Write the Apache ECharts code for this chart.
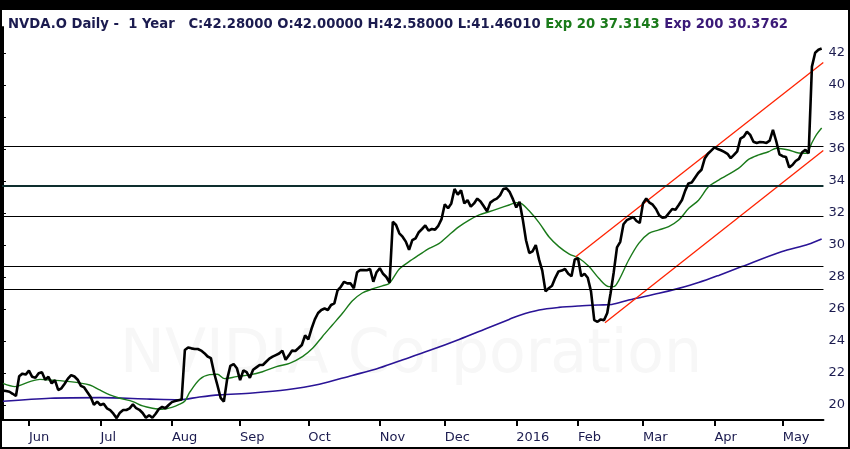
<!DOCTYPE html>
<html>
<head>
<meta charset="utf-8">
<script src="https://cdn.jsdelivr.net/npm/echarts@6/dist/echarts.min.js"></script>
<style>
html,body{margin:0;padding:0;background:#000;width:850px;height:449px;overflow:hidden;}
#c{position:absolute;left:2px;top:10px;width:846px;height:437px;background:#fff;}
</style>
</head>
<body>
<div id="c"></div>
<script>
// ---- data ----
const monthLabels = ['Jun','Jul','Aug','Sep','Oct','Nov','Dec','2016','Feb','Mar','Apr','May'];
const monthStartIdx = [8,30,52,73,94,116,136,158,177,197,219,240];
const yTicks = [20,22,24,26,28,30,32,34,36,38,40,42];

const price = [
20.9,20.88,20.83,20.7,20.56,21.8,21.96,21.9,22.15,21.76,
21.7,21.98,22.05,21.58,21.76,21.35,21.56,20.94,21.04,21.33,
21.65,21.87,21.78,21.58,21.2,21.1,20.8,20.5,20.02,20.21,
20.0,20.08,19.79,19.68,19.46,19.18,19.52,19.69,19.69,19.79,
20.05,19.8,19.7,19.5,19.2,19.36,19.2,19.45,19.75,19.88,
19.8,20.0,20.18,20.25,20.3,20.35,23.44,23.6,23.54,23.5,
23.5,23.4,23.24,23.03,22.93,22.0,21.25,20.45,20.21,21.6,
22.45,22.56,22.3,21.55,22.17,22.05,21.7,22.2,22.35,22.5,
22.5,22.7,22.9,23.02,23.12,23.22,23.4,22.83,23.1,23.4,
23.38,23.56,23.75,24.35,24.1,24.78,25.35,25.75,25.94,26.03,
25.94,26.25,26.35,27.17,27.39,27.7,27.6,27.6,27.3,28.3,
28.44,28.43,28.42,28.5,27.7,28.3,28.55,28.2,28.0,27.65,
31.45,31.25,30.73,30.52,30.21,29.7,30.3,30.42,30.8,31.0,
31.22,30.9,31.0,30.96,31.2,31.62,32.55,32.3,32.6,33.5,
33.15,33.42,32.6,32.8,32.4,32.6,32.9,32.72,32.42,32.1,
32.65,32.8,32.9,33.1,33.5,33.54,33.3,32.85,32.35,32.7,
31.6,30.3,29.5,29.6,30.0,29.1,28.4,27.1,27.3,27.45,
27.95,28.35,28.4,28.5,28.2,28.05,29.1,29.17,28.05,28.2,
27.95,27.1,25.3,25.2,25.35,25.3,25.75,26.95,28.3,29.85,
30.2,31.3,31.55,31.65,31.75,31.5,31.38,32.6,32.9,32.65,
32.52,32.25,31.85,31.7,31.74,32.0,32.25,32.2,32.5,32.81,
33.4,33.85,33.9,34.2,34.5,34.7,35.4,35.7,35.9,36.1,
36.0,35.92,35.82,35.7,35.43,35.63,35.85,36.65,36.77,37.08,
36.88,36.45,36.37,36.43,36.42,36.38,36.52,37.2,36.5,35.67,
35.55,35.5,34.85,35.0,35.25,35.38,35.8,35.95,35.73,41.15,
42.02,42.2,42.28
];

const ema20Idx = [0,3.7,8.3,11.4,14.5,20.6,26.7,29.8,32.9,36,40,43,46,49,52,54.4,56,57.5,60.5,63.6,66,68.2,71.9,75.9,79.9,84.2,88.2,92.2,95.3,98.3,101.4,104.5,107.5,110.6,113.7,116.8,118.9,122,125,128.1,131.2,134.3,137.3,140.4,143.5,146.6,149.6,152.7,155.8,157.9,159.5,161.9,165,168.1,171.1,174.2,177.3,180.4,183.4,186.5,188,189.6,192.6,195.7,198.8,201.9,204.9,208,211.1,214.1,217.2,220.3,226.4,229.5,232.6,235.6,238.1,241.8,244.9,247.3,248.9,250.4,252];
const ema20Val = [21.35,21.15,21.46,21.6,21.56,21.46,21.25,20.94,20.63,20.42,20.21,19.94,19.8,19.73,19.85,20.05,20.25,20.8,21.6,21.9,21.92,21.65,21.77,21.88,22.08,22.4,22.6,23.02,23.54,24.27,25.0,25.73,26.5,27.0,27.25,27.45,27.6,28.5,28.96,29.38,29.79,30.1,30.63,31.15,31.56,31.88,32.08,32.29,32.5,32.65,32.6,32.15,31.4,30.5,29.9,29.45,29.17,28.65,27.92,27.4,27.4,27.81,29.06,30.1,30.73,30.94,31.15,31.56,32.29,32.8,33.65,34.06,34.79,35.35,35.63,35.83,36.05,35.94,35.75,35.73,36.35,36.9,37.31];

const ema200Idx = [0,14.5,29.8,45.2,54.4,60.5,66.7,76.8,87.3,97.4,107.5,114.9,122,131.2,140.4,149.6,155.8,158.9,165,171.1,177.3,183.4,187.4,192.6,201.9,208,214.1,220.3,227.4,239.6,247.9,252];
const ema200Val = [20.23,20.42,20.46,20.37,20.33,20.5,20.63,20.75,20.95,21.3,21.85,22.25,22.75,23.4,24.1,24.85,25.35,25.6,25.94,26.1,26.19,26.25,26.28,26.56,26.98,27.29,27.65,28.1,28.65,29.58,30.05,30.38];

const hLevels = [36.2, 33.7, 31.8, 28.65, 27.25];
const upperChannelIdx = [176.3, 252.5];
const upperChannelVal = [29.27, 41.4];
const lowerChannelIdx = [185.3, 252.5];
const lowerChannelVal = [25.14, 35.9];

// ---- chart ----
const pair = (xs, ys) => xs.map((x, i) => [x, ys[i]]);
const navy = '#1b1b4f';
const chart = echarts.init(document.getElementById('c'), null, {renderer: 'canvas'});
chart.setOption({
  animation: false,
  backgroundColor: '#fff',
  title: {
    left: 1, top: 3,
    text: '{a|NVDA.O Daily -  1 Year   C:42.28000 O:42.00000 H:42.58000 L:41.46010 }{g|Exp 20 37.3143 }{p|Exp 200 30.3762}',
    textStyle: {
      rich: {
        a: {fontFamily: 'DejaVu Sans', fontSize: 13.2, color: navy},
        g: {fontFamily: 'DejaVu Sans', fontSize: 13.2, color: '#1a7a1a'},
        p: {fontFamily: 'DejaVu Sans', fontSize: 13.2, color: '#3b1a78'}
      }
    }
  },
  graphic: [{
    type: 'text', left: 118, top: 316, z: 0, silent: true,
    style: {text: 'NVIDIA Corporation', font: '60px "DejaVu Sans"', fill: '#f7f7f7'}
  }],
  grid: {left: 0, right: 23, top: 17, bottom: 27, containLabel: false},
  xAxis: {
    type: 'value', min: -0.29, max: 252.55,
    axisLine: {show: true, lineStyle: {color: '#000', width: 2}},
    axisTick: {show: true, customValues: monthStartIdx, length: 6, lineStyle: {color: '#000', width: 2}},
    axisLabel: {
      customValues: monthStartIdx, align: 'left', margin: 11,
      fontFamily: 'DejaVu Sans', fontSize: 13, color: navy,
      formatter: v => monthLabels[monthStartIdx.indexOf(v)]
    },
    splitLine: {show: false}
  },
  yAxis: {
    type: 'value', position: 'right', min: 19.0625, max: 43.625,
    axisLine: {show: true, lineStyle: {color: '#000', width: 2}},
    axisTick: {show: true, customValues: yTicks, length: 3, lineStyle: {color: '#000', width: 1}},
    axisLabel: {customValues: yTicks, margin: 5, fontFamily: 'DejaVu Sans', fontSize: 13, color: navy},
    splitLine: {show: false}
  },
  series: [
    {
      type: 'line', name: 'levels', data: [], silent: true,
      markLine: {
        silent: true, symbol: ['none', 'none'], label: {show: false},
        data: hLevels.map((v, i) => ({yAxis: v, lineStyle: {type: 'solid', color: i === 1 ? '#0e2e2e' : '#000', width: i === 1 ? 2 : 1.2}}))
      },
      z: 1
    },
    {type: 'line', name: 'Exp 200', data: pair(ema200Idx, ema200Val), smooth: 0.3, showSymbol: false,
     lineStyle: {color: '#2a1496', width: 1.6}, z: 2},
    {type: 'line', name: 'Exp 20', data: pair(ema20Idx, ema20Val), smooth: 0.3, showSymbol: false,
     lineStyle: {color: '#1a7a1a', width: 1.4}, z: 3},
    {type: 'line', name: 'upper', data: pair(upperChannelIdx, upperChannelVal), showSymbol: false,
     lineStyle: {color: '#ff2200', width: 1.3}, z: 4},
    {type: 'line', name: 'lower', data: pair(lowerChannelIdx, lowerChannelVal), showSymbol: false,
     lineStyle: {color: '#ff2200', width: 1.3}, z: 4},
    {type: 'line', name: 'NVDA', data: price.map((v, i) => [i, v]), showSymbol: false,
     lineStyle: {color: '#000', width: 2.6}, z: 5}
  ]
});
</script>
</body>
</html>
